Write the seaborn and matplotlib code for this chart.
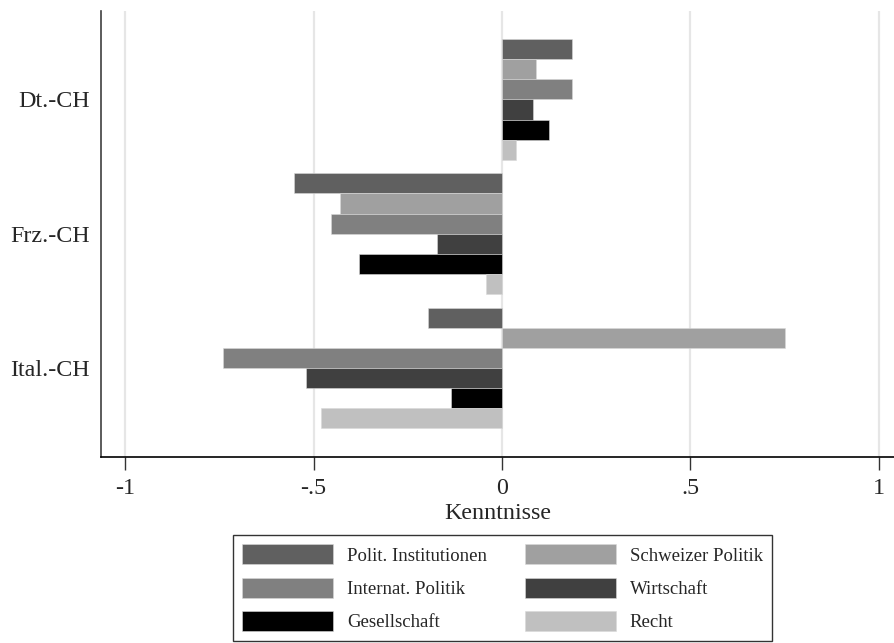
import numpy as np
import pandas as pd
import matplotlib
matplotlib.use("Agg")
import matplotlib.pyplot as plt
import seaborn as sns

# ── Data ─────────────────────────────────────────────────────────────────────
REGIONS = ["Dt.-CH", "Frz.-CH", "Ital.-CH"]
DOMAINS = ["Polit. Institutionen", "Schweizer Politik", "Internat. Politik",
           "Wirtschaft", "Gesellschaft", "Recht"]
COLORS  = ["#606060", "#a0a0a0", "#808080", "#404040", "#000000", "#c0c0c0"]

polit_inst   = [0.185, -0.551, -0.196]
schweiz_pol  = [0.091, -0.429,  0.750]
internat_pol = [0.185, -0.453, -0.739]
wirtschaft   = [0.083, -0.172, -0.519]
gesellschaft = [0.126, -0.380, -0.134]
recht        = [0.038, -0.042, -0.480]

XTICKS      = [-1, -0.5, 0, 0.5, 1]
XTICKLABELS = ["-1", "-.5", "0", ".5", "1"]

series = [polit_inst, schweiz_pol, internat_pol, wirtschaft, gesellschaft, recht]
rows = []
for dom, vals in zip(DOMAINS, series):
    for reg, v in zip(REGIONS, vals):
        rows.append({"region": reg, "domain": dom, "value": v})
df = pd.DataFrame(rows)

# ── Plot ─────────────────────────────────────────────────────────────────────
sns.set_style("white")
plt.rcParams["font.family"] = ["Liberation Serif", "DejaVu Serif"]

fig = plt.figure(figsize=(8.94, 6.43), dpi=100)
ax = fig.add_axes([0.1127, 0.2893, 0.8873, 0.6936])

sns.barplot(data=df, x="value", y="region", hue="domain",
            order=REGIONS, hue_order=DOMAINS,
            palette=dict(zip(DOMAINS, COLORS)), orient="h", width=0.9,
            edgecolor="#d8d8d8", linewidth=0.4, errorbar=None, ax=ax)

ax.set_xlim(-1.0645, 1.04)
ax.set_ylim(2.663, -0.659)
ax.set_xticks(XTICKS)
ax.set_xticklabels(XTICKLABELS)
ax.xaxis.grid(True, color="#e6e6e6", linewidth=1.6)
ax.set_axisbelow(True)
ax.tick_params(axis="x", length=9, width=1, color="#333333",
               labelsize=17.3, pad=6, bottom=True)
ax.tick_params(axis="y", length=0, labelsize=17.3, pad=8)
ax.set_xlabel("Kenntnisse", fontsize=17.3, labelpad=3)
ax.set_ylabel("")

for side in ["top", "right"]:
    ax.spines[side].set_visible(False)
ax.spines["left"].set_color("#404040")
ax.spines["bottom"].set_color("#000000")
ax.spines["left"].set_linewidth(1.2)
ax.spines["bottom"].set_linewidth(1.2)

# legend filled row by row (two columns)
ax.get_legend().remove()
handles = [plt.Rectangle((0, 0), 1, 1, facecolor=c, edgecolor="#d8d8d8",
                         linewidth=0.4) for c in COLORS]
order = [0, 2, 4, 1, 3, 5]
leg = fig.legend([handles[i] for i in order], [DOMAINS[i] for i in order],
                 ncol=2, loc="upper center",
                 bbox_to_anchor=(0.562, 0.168), fontsize=13.5,
                 frameon=True, fancybox=False, edgecolor="black",
                 handlelength=4.85, handleheight=1.26, handletextpad=0.75,
                 columnspacing=2.0, labelspacing=0.7, borderpad=0.5,
                 borderaxespad=0)
leg.get_frame().set_linewidth(1.0)

plt.savefig("out.png", dpi=100)
plt.close()
